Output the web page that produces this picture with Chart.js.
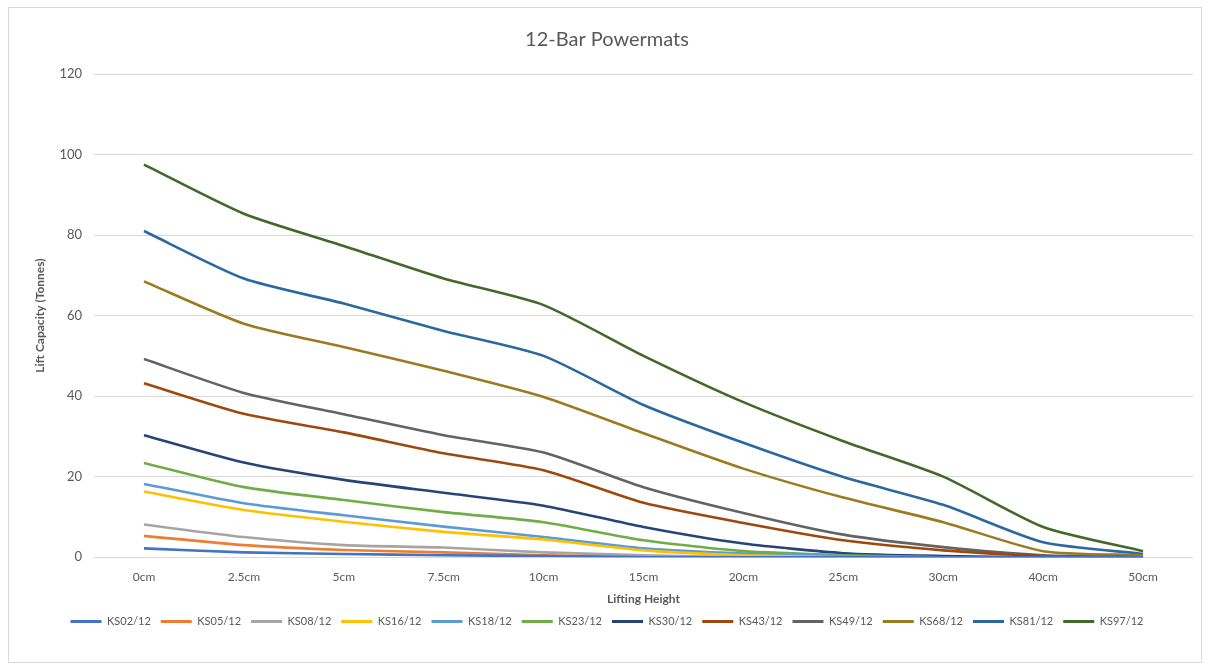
<!DOCTYPE html>
<html>
<head>
<meta charset="utf-8">
<script src="https://cdn.jsdelivr.net/npm/chart.js@4.4.1/dist/chart.umd.min.js"></script>
<style>
  html, body { margin: 0; padding: 0; background: #fff; }
  #wrap { position: relative; width: 1205px; height: 670px; }
  #frame { position: absolute; left: 8px; top: 7px; width: 1192px; height: 654px; border: 1px solid #d9d9d9; pointer-events: none; }
</style>
</head>
<body>
<div id="wrap">
  <canvas id="chart" width="1205" height="670"></canvas>
  <div id="frame"></div>
</div>
<script>
const heights = ['0cm', '2.5cm', '5cm', '7.5cm', '10cm', '15cm', '20cm', '25cm', '30cm', '40cm', '50cm'];

const ks02 = [2.2, 1.2, 0.8, 0.5, 0.3, 0, 0, 0, 0, 0, 0];
const ks05 = [5.3, 3.0, 1.8, 1.2, 0.5, 0, 0, 0, 0, 0, 0];
const ks08 = [8.1, 5.0, 3.0, 2.4, 1.2, 0.5, 0, 0, 0, 0, 0];
const ks16 = [16.3, 11.7, 8.8, 6.3, 4.4, 1.7, 0.5, 0, 0, 0, 0];
const ks18 = [18.2, 13.4, 10.4, 7.6, 5.0, 2.2, 0.9, 0.3, 0, 0, 0];
const ks23 = [23.4, 17.4, 14.2, 11.2, 8.7, 4.2, 1.5, 0.5, 0, 0, 0];
const ks30 = [30.3, 23.5, 19.2, 16.0, 12.8, 7.5, 3.4, 1.0, 0.3, 0, 0];
const ks43 = [43.2, 35.6, 31.0, 25.8, 21.6, 13.5, 8.5, 4.2, 1.7, 0.3, 0];
const ks49 = [49.2, 40.8, 35.5, 30.3, 26.0, 17.4, 11.0, 5.6, 2.5, 0.5, 0];
const ks68 = [68.5, 58.0, 52.2, 46.3, 39.8, 30.8, 22.0, 14.8, 8.7, 1.5, 0.5];
const ks81 = [81.0, 69.2, 63.0, 56.2, 50.0, 37.8, 28.4, 19.9, 13.0, 3.7, 0.8];
const ks97 = [97.5, 85.3, 77.3, 69.2, 62.6, 50.0, 38.5, 28.8, 20.0, 7.5, 1.5];

const seriesNames = ['KS02/12', 'KS05/12', 'KS08/12', 'KS16/12', 'KS18/12', 'KS23/12',
  'KS30/12', 'KS43/12', 'KS49/12', 'KS68/12', 'KS81/12', 'KS97/12'];
const seriesValues = [ks02, ks05, ks08, ks16, ks18, ks23, ks30, ks43, ks49, ks68, ks81, ks97];
const seriesColors = ['#4472c4', '#ed7d31', '#a5a5a5', '#ffc000', '#5b9bd5', '#70ad47',
  '#264478', '#9e480e', '#636363', '#9c7a1e', '#2c68a0', '#43682b'];

const yTicks = [0, 20, 40, 60, 80, 100, 120];

const textGrey = '#595959';
const fontFamily = 'Lato, "Open Sans", sans-serif';

const ctx = document.getElementById('chart').getContext('2d');

new Chart(ctx, {
  type: 'line',
  data: {
    labels: heights,
    datasets: seriesNames.map((name, i) => ({
      label: name,
      data: seriesValues[i],
      borderColor: seriesColors[i],
      backgroundColor: seriesColors[i],
      borderWidth: 2.6,
      tension: 0.22,
      fill: false,
      pointRadius: 0,
      pointHoverRadius: 0,
    })),
  },
  options: {
    responsive: false,
    animation: false,
    devicePixelRatio: 1,
    layout: { padding: { top: 18, left: 21, right: 12, bottom: 33 } },
    plugins: {
      title: {
        display: true,
        text: '12-Bar Powermats',
        color: textGrey,
        font: { family: fontFamily, size: 20, weight: 'normal' },
        padding: { top: 10, bottom: 22 },
      },
      legend: {
        display: true,
        position: 'bottom',
        labels: {
          color: textGrey,
          font: { family: fontFamily, size: 11 },
          boxWidth: 31,
          boxHeight: 3,
          padding: 10,
          generateLabels: (chart) => chart.data.datasets.map((ds, i) => ({
            text: ds.label,
            fillStyle: ds.borderColor,
            strokeStyle: ds.borderColor,
            lineWidth: 0,
            hidden: false,
            datasetIndex: i,
            fontColor: textGrey,
          })),
        },
      },
      tooltip: { enabled: false },
    },
    scales: {
      x: {
        offset: true,
        grid: { display: false, drawTicks: false },
        border: { display: false },
        ticks: {
          color: textGrey,
          font: { family: fontFamily, size: 12 },
          padding: 13,
          maxRotation: 0,
        },
        title: {
          display: true,
          text: 'Lifting Height',
          color: textGrey,
          font: { family: fontFamily, size: 12, weight: 'bold' },
          padding: { top: -6, bottom: 0 },
        },
      },
      y: {
        min: 0,
        max: 120,
        afterBuildTicks: (axis) => { axis.ticks = yTicks.map((v) => ({ value: v })); },
        grid: { color: '#d9d9d9', lineWidth: 1, drawTicks: false },
        border: { display: false },
        ticks: {
          color: textGrey,
          font: { family: fontFamily, size: 13 },
          padding: 12,
        },
        title: {
          display: true,
          text: 'Lift Capacity (Tonnes)',
          color: textGrey,
          font: { family: fontFamily, size: 12, weight: 'bold' },
          padding: { top: 12, bottom: 0 },
        },
      },
    },
  },
});
</script>
</body>
</html>
